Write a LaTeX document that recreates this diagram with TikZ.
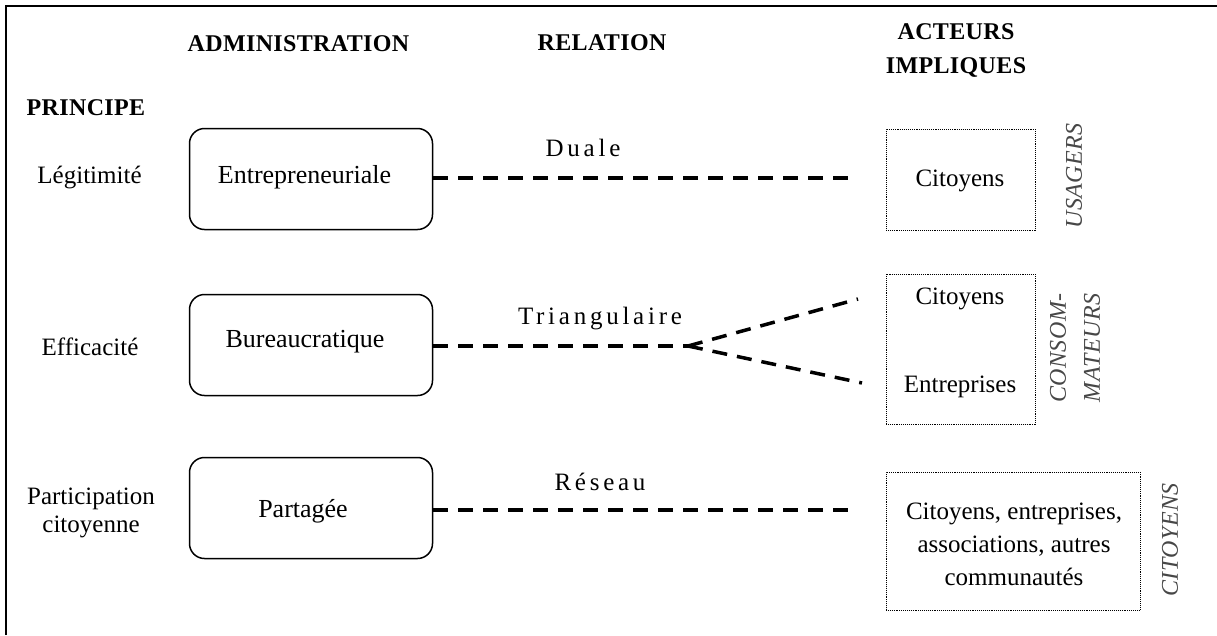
\documentclass[tikz,border=0pt]{standalone}
\usepackage{fontspec}
\setmainfont{Liberation Serif}
\newfontfamily\hdfont[LetterSpace=1.5]{Liberation Serif}
\newfontfamily\relfont[LetterSpace=15]{Liberation Serif}
\newfontfamily\sidefont[LetterSpace=2]{Liberation Serif}
\begin{document}
\begin{tikzpicture}[x=1pt,y=-1pt,
  header/.style={font=\hdfont\bfseries\fontsize{24}{34}\selectfont, align=center, inner sep=0pt},
  rowlabel/.style={font=\fontsize{25}{28}\selectfont, align=center, inner sep=0pt},
  adminbox/.style={draw, line width=1.5pt, rounded corners=15pt, minimum width=243pt, minimum height=101pt},
  admintext/.style={font=\fontsize{26}{30}\selectfont, inner sep=0pt},
  actorbox/.style={draw, densely dotted, line width=0.9pt, inner sep=0pt},
  actortext/.style={font=\fontsize{25}{33}\selectfont, align=center, inner sep=0pt},
  rellabel/.style={font=\relfont\fontsize{25}{28}\selectfont, inner sep=0pt},
  sidelabel/.style={font=\sidefont\itshape\fontsize{24}{34}\selectfont, text=black!72, rotate=90, align=center, inner sep=0pt},
  link/.style={line width=3.5pt, dash pattern=on 15pt off 10pt}
]
\useasboundingbox (0,0) rectangle (1217,635);
% frame (top and left edges)
\draw[line width=2.5pt] (6,635) -- (6,6) -- (1217,6);

% headers
\node[header] (hadm) at (298.5,44) {ADMINISTRATION};
\node[header] (hrel) at (602,43) {RELATION};
\node[header] (hact) at (956,50) {ACTEURS\\IMPLIQUES};
\node[header] (hpri) at (86,108) {PRINCIPE};

% row labels
\node[rowlabel] (p1) at (89.5,178) {Légitimité};
\node[rowlabel] (p2) at (90,347) {Efficacité};
\node[rowlabel] (p3) at (91,513) {Participation\\citoyenne};

% administration boxes
\node[adminbox] (a1) at (311,179) {};
\node[admintext] (a1t) at (304.5,177) {Entrepreneuriale};
\node[adminbox] (a2) at (311,345) {};
\node[admintext] (a2t) at (305,342) {Bureaucratique};
\node[adminbox] (a3) at (311,508) {};
\node[admintext] (a3t) at (303,511) {Partagée};

% actor boxes
\node[actorbox, minimum width=149pt, minimum height=101pt] (r1) at (960.5,179.5) {};
\node[actortext] (t1) at (960,181) {Citoyens};
\node[actorbox, minimum width=149pt, minimum height=150pt] (r2) at (960.5,349) {};
\node[actortext] (t2a) at (960,299) {Citoyens};
\node[actortext] (t2b) at (960,387) {Entreprises};
\node[actorbox, minimum width=254pt, minimum height=138pt] (r3) at (1013,541) {};
\node[actortext] (t3) at (1014,544) {Citoyens, entreprises,\\associations, autres\\communautés};

% side labels
\node[sidelabel] (s1) at (1074,176) {USAGERS};
\node[sidelabel] (s2) at (1075,348) {CONSOM-\\MATEURS};
\node[sidelabel] (s3) at (1170,540) {CITOYENS};

% relation labels
\node[rellabel] (l1) at (583,148) {Duale};
\node[rellabel] (l2) at (600,319) {Triangulaire};
\node[rellabel] (l3) at (600,482) {Réseau};

% connectors
\coordinate (e1) at (852,178);
\coordinate (j2) at (688,346);
\coordinate (e2a) at (858,299);
\coordinate (e2b) at (862,383);
\coordinate (e3) at (852,510);
\draw[link] (a1.east |- e1) -- (e1);
\draw[link] (a2.east |- j2) -- (j2);
\draw[link] (j2) -- (e2a);
\draw[link] (j2) -- (e2b);
\draw[link] (a3.east |- e3) -- (e3);
\end{tikzpicture}
\end{document}
